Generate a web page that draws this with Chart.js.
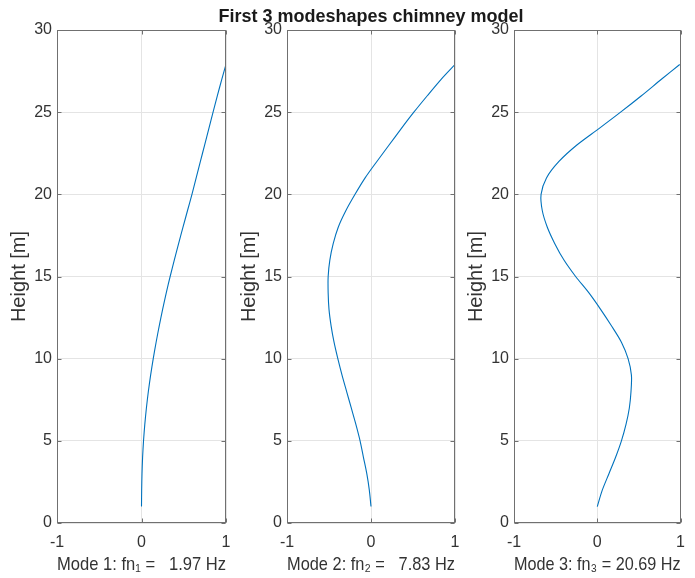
<!DOCTYPE html>
<html><head><meta charset="utf-8">
<script src="https://cdn.jsdelivr.net/npm/chart.js@4"></script>
<style>
html,body{margin:0;padding:0;background:#fff;}
#wrap{position:relative;width:695px;height:578px;}
canvas{position:absolute;left:0;top:0;}
</style>
</head><body>
<div id="wrap">
<canvas id="c1" width="695" height="578"></canvas>
<canvas id="c2" width="695" height="578"></canvas>
<canvas id="c3" width="695" height="578"></canvas>
</div>
<script>
// Height along chimney [m]
const heights = [1,2,3,4,5,6,7,8,9,10,11,12,13,14,15,16,17,18,19,20,21,22,23,24,25,26,27,27.9];
// Normalised mode shape displacements
const mode1 = [0,0.002,0.006,0.013,0.024,0.039,0.058,0.081,0.108,0.139,0.173,0.21,0.25,0.293,0.339,0.388,0.439,0.491,0.544,0.597,0.647,0.697,0.747,0.797,0.847,0.898,0.95,1.0];
const mode2 = [0,-0.02,-0.05,-0.09,-0.13,-0.18,-0.235,-0.29,-0.345,-0.395,-0.44,-0.475,-0.5,-0.51,-0.51,-0.49,-0.45,-0.39,-0.3,-0.19,-0.07,0.07,0.215,0.36,0.51,0.67,0.835,1.0];
const mode3 = [0,0.06,0.14,0.22,0.29,0.345,0.385,0.405,0.41,0.37,0.29,0.17,0.04,-0.1,-0.26,-0.4,-0.51,-0.6,-0.66,-0.675,-0.61,-0.46,-0.245,0.02,0.28,0.53,0.77,0.99];
const modeLabels = ['Mode 1: fn\u2081 =   1.97 Hz','Mode 2: fn\u2082 =   7.83 Hz','Mode 3: fn\u2083 = 20.69 Hz'];
const figTitle = 'First 3 modeshapes chimney model';
const yAxisLabel = 'Height [m]';

const FONT = "'Liberation Sans', Arial, Helvetica, sans-serif";
const TXT = '#333333';

const boxPlugin = {
  id: 'matlabBox',
  afterDraw(chart) {
    const {ctx, chartArea: a, scales: {x, y}} = chart;
    ctx.save();
    ctx.strokeStyle = '#707070';
    ctx.lineWidth = 1;
    const L = Math.round(a.left) + 0.5, R = Math.round(a.right) - 0.5;
    const T = Math.round(a.top) + 0.5, B = Math.round(a.bottom) - 0.5;
    ctx.strokeRect(L, T, R - L, B - T);
    ctx.beginPath();
    y.ticks.forEach(t => {
      const py = Math.round(y.getPixelForValue(t.value)) + 0.5;
      ctx.moveTo(L, py); ctx.lineTo(L + 4, py);
      ctx.moveTo(R, py); ctx.lineTo(R - 4, py);
    });
    x.ticks.forEach(t => {
      const px = Math.round(x.getPixelForValue(t.value)) + 0.5;
      ctx.moveTo(px, T); ctx.lineTo(px, T + 4);
      ctx.moveTo(px, B); ctx.lineTo(px, B - 4);
    });
    ctx.stroke();
    const title = chart.options.plugins.matlabBox && chart.options.plugins.matlabBox.title;
    if (title) {
      ctx.fillStyle = '#1a1a1a';
      ctx.font = "bold 18px " + FONT;
      ctx.textAlign = 'center';
      ctx.textBaseline = 'middle';
      ctx.fillText(title, (a.left + a.right) / 2, 17);
    }
    ctx.restore();
  }
};

const pads = [
  {left: 0, right: 469},
  {left: 230, right: 240},
  {left: 457, right: 12}
];
const modes = [mode1, mode2, mode3];

modes.forEach((m, i) => {
  new Chart(document.getElementById('c' + (i + 1)), {
    type: 'scatter',
    data: {
      datasets: [{
        data: heights.map((h, k) => ({x: m[k], y: h})),
        showLine: true,
        borderColor: '#0072BD',
        borderWidth: 1.1,
        pointRadius: 0,
        tension: 0.3,
        fill: false
      }]
    },
    options: {
      responsive: false,
      animation: false,
      events: [],
      layout: {padding: {left: pads[i].left, right: pads[i].right, top: 30, bottom: 0}},
      plugins: {
        legend: {display: false},
        tooltip: {enabled: false},
        title: {display: false},
        matlabBox: {title: i === 1 ? figTitle : null}
      },
      scales: {
        x: {
          type: 'linear', min: -1, max: 1,
          ticks: {stepSize: 1, color: TXT, font: {family: FONT, size: 16}, padding: 10, maxRotation: 0},
          grid: {color: '#e4e4e4', drawTicks: false},
          border: {display: false},
          title: {display: true, text: modeLabels[i], color: TXT, font: {family: FONT, size: 19, lineHeight: 1.2}, padding: {top: 0, bottom: 2}},
          afterFit(s) { s.height = 55; }
        },
        y: {
          type: 'linear', min: 0, max: 30,
          ticks: {stepSize: 5, color: TXT, font: {family: FONT, size: 16}, padding: 5},
          grid: {color: '#e4e4e4', drawTicks: false},
          border: {display: false},
          title: {display: true, text: yAxisLabel, color: TXT, font: {family: FONT, size: 20, lineHeight: 1.2}, padding: {top: 7, bottom: 0}},
          afterFit(s) { s.width = 57; }
        }
      }
    },
    plugins: [boxPlugin]
  });
});
</script>
</body></html>
